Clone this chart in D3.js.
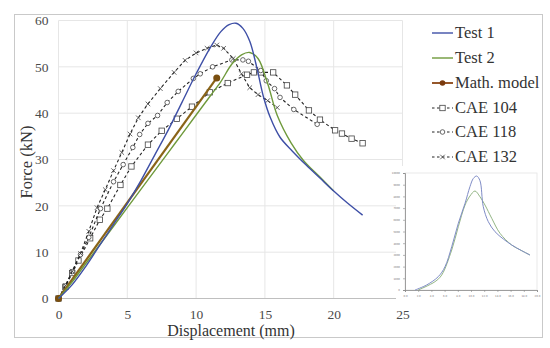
<!DOCTYPE html>
<html><head><meta charset="utf-8">
<script src="https://cdn.jsdelivr.net/npm/d3@7"></script>
<style>body{margin:0;background:#fff}svg{display:block}</style>
</head><body>
<svg id="c" width="550" height="348"></svg>
<script>
// ---- data ----
const xTicks = [0, 5, 10, 15, 20, 25];
const yTicks = [0, 10, 20, 30, 40, 50, 60];
const seriesNames = ["Test 1", "Test 2", "Math. model", "CAE 104", "CAE 118", "CAE 132"];

const test1 = [[0,0],[1,3],[2,7],[3,11.5],[4,16],[5,20.5],[6,25.5],[7,31],[8,36.5],[9,42.5],[10,48.5],[11,54],[11.8,57.6],[12.4,59.1],[12.9,59.4],[13.4,58.3],[13.9,55.5],[14.4,50],[14.9,43.5],[15.4,39],[16.1,34.8],[17,31.8],[18,28.8],[19,26],[20,23.2],[21,20.6],[22.1,18]];
const test2 = [[0,0],[1,3.6],[2,7.6],[3,11.6],[4,15.6],[5,19.6],[6,23.6],[7,27.6],[8,31.6],[9,35.6],[10,39.6],[11,43.6],[11.8,46.8],[12.6,50.6],[13.3,52.6],[13.9,53.1],[14.5,51.8],[15.2,46.4],[15.9,39.5],[16.9,33.6],[17.8,29.8],[19,26.2],[20,23.2]];
const mathModel = [[0,0],[11.5,47.6]];
const cae104 = [[0,0],[0.5,2.5],[1,5.5],[1.45,8.2],[2.3,13],[3,17],[3.55,19.4],[4.5,24.5],[5.3,28.5],[6.5,33.2],[7.5,36.2],[8.6,38.8],[9.7,41.4],[11,44.5],[12.3,46.5],[13.7,48.3],[14.2,48.8],[14.7,48.8],[15.6,48.8],[16.6,46],[17.2,44],[18.2,40.6],[19,38.6],[20.1,36.3],[20.6,35.6],[21.3,34.5],[22.1,33.5]];
const cae118 = [[0,0],[0.5,2.7],[1,5.8],[1.6,9.5],[2.2,13.2],[3.05,19.4],[4,25.2],[4.7,28.9],[5.4,32.6],[5.9,35.4],[6.5,37.8],[7.2,39.5],[7.9,42.3],[8.7,44.7],[9.8,47.5],[10.3,48.5],[11.2,50],[12.6,51.5],[13.4,51.5],[13.8,51.2],[14.7,49.2],[15.1,47],[15.7,45.3],[16.1,43.4],[17.1,40.8],[18.8,37.6]];
const cae132 = [[0,0],[0.5,2.8],[1,5.9],[1.6,9.7],[2.2,14.5],[2.8,19.6],[3.4,23.5],[4,27.6],[4.6,31.5],[5.2,35.5],[5.8,39],[6.5,42],[7.4,45.3],[8.4,48.8],[9.2,51.4],[10,53],[10.8,54],[11.5,54.7],[12,54],[12.7,51.8],[13.3,48.5],[13.9,45.5],[14.5,44],[15.2,42.7],[15.9,41.2]];

// inset (arbitrary units 0..10)
const insetTicks = [0,1,2,3,4,5,6,7,8,9,10];
const insetBlue = [[0.76,0],[1.64,0.43],[2.52,1.14],[3.03,1.99],[3.54,3.7],[4.04,5.7],[4.55,7.41],[4.92,8.83],[5.18,9.54],[5.43,9.74],[5.68,9.34],[5.93,7.12],[6.31,5.84],[6.82,4.98],[7.45,4.36],[8.08,3.85],[8.84,3.36],[9.47,2.99]];
const insetGreen = [[1.0,0],[2.27,0.71],[2.78,1.28],[3.54,3.42],[4.04,5.41],[4.55,7.26],[4.92,8.03],[5.3,8.46],[5.68,7.97],[6.06,7.26],[6.57,6.13],[7.2,4.84],[8.08,3.85],[8.84,3.36],[9.47,2.99]];

// ---- drawing ----
const svg = d3.select("#c");
const serif = "'Liberation Serif','DejaVu Serif',serif";

svg.append("rect").attr("x",14.5).attr("y",14.5).attr("width",528).attr("height",323)
  .attr("fill","#fff").attr("stroke","#c9c9c9").attr("stroke-width",1);

const x = d3.scaleLinear().domain([0,25]).range([58.5,402.5]);
const y = d3.scaleLinear().domain([0,60]).range([298.5,20.5]);

// grid
const g = svg.append("g");
g.selectAll(".vg").data(xTicks).enter().append("line")
  .attr("x1",d=>x(d)).attr("x2",d=>x(d)).attr("y1",y(60)).attr("y2",y(0))
  .attr("stroke","#e6e6e6").attr("stroke-width",1);
g.selectAll(".hg").data(yTicks).enter().append("line")
  .attr("x1",x(0)).attr("x2",x(25)).attr("y1",d=>y(d)).attr("y2",d=>y(d))
  .attr("stroke",d=>d===0?"#bfbfbf":"#e6e6e6").attr("stroke-width",1);

// axes labels via d3 axes
const xAxis = d3.axisBottom(x).tickValues(xTicks).tickSize(0).tickPadding(11);
const xa = svg.append("g").attr("transform",`translate(0,${y(0)})`).call(xAxis);
xa.select(".domain").remove();
xa.selectAll("text").attr("font-family",serif).attr("font-size",13.5).attr("fill","#4a4a4a");

const yAxis = d3.axisLeft(y).tickValues(yTicks).tickSize(0).tickPadding(10);
const ya = svg.append("g").attr("transform",`translate(${x(0)},0)`).call(yAxis);
ya.select(".domain").remove();
ya.selectAll("text").attr("font-family",serif).attr("font-size",13.5).attr("fill","#4a4a4a");

svg.append("text").attr("x",231).attr("y",336).attr("text-anchor","middle")
  .attr("font-family",serif).attr("font-size",16).attr("fill","#333").text("Displacement (mm)");
svg.append("text").attr("transform","translate(32,162) rotate(-90)").attr("text-anchor","middle")
  .attr("font-family",serif).attr("font-size",16.5).attr("fill","#333").text("Force (kN)");

// inset
const ix = d3.scaleLinear().domain([0,10]).range([405,537]);
const iy = d3.scaleLinear().domain([0,10]).range([290,173]);
const ins = svg.append("g");
ins.append("rect").attr("x",396).attr("y",166).attr("width",146).attr("height",134).attr("fill","#fff");
ins.append("rect").attr("x",ix(0)).attr("y",iy(10)).attr("width",ix(10)-ix(0)).attr("height",iy(0)-iy(10))
  .attr("fill","none").attr("stroke","#e4e4e4").attr("stroke-width",0.8);
const iax = ins.append("g").attr("transform",`translate(0,${iy(0)})`)
  .call(d3.axisBottom(ix).tickValues(insetTicks).tickSize(2).tickFormat(d=>(d*2).toFixed(1)));
const iay = ins.append("g").attr("transform",`translate(${ix(0)},0)`)
  .call(d3.axisLeft(iy).tickValues(insetTicks).tickSize(2).tickFormat(d=>d*1000));
[iax,iay].forEach(a=>{
  a.select(".domain").attr("stroke","#888").attr("stroke-width",0.8);
  a.selectAll("line").attr("stroke","#888").attr("stroke-width",0.6);
  a.selectAll("text").attr("font-size",2.6).attr("fill","#777").attr("font-family","'DejaVu Sans',sans-serif");
});
const iline = d3.line().x(d=>ix(d[0])).y(d=>iy(d[1])).curve(d3.curveCatmullRom.alpha(0.5));
ins.append("path").datum(insetGreen).attr("d",iline).attr("fill","none").attr("stroke","#93b585").attr("stroke-width",1);
ins.append("path").datum(insetBlue).attr("d",iline).attr("fill","none").attr("stroke","#7f8cc6").attr("stroke-width",1);

// series
const lineC = d3.line().x(d=>x(d[0])).y(d=>y(d[1])).curve(d3.curveCatmullRom.alpha(0.5));
const lineL = d3.line().x(d=>x(d[0])).y(d=>y(d[1]));
const plot = svg.append("g");

function cae(data, marker){
  plot.append("path").datum(data).attr("d",lineL).attr("fill","none")
    .attr("stroke","#222").attr("stroke-width",1.1).attr("stroke-dasharray","3,2.5");
  const m = plot.append("g");
  data.forEach(d=>drawMarker(m, x(d[0]), y(d[1]), marker));
}
function drawMarker(sel, cx, cy, type){
  if(type==="square"){
    sel.append("rect").attr("x",cx-2.7).attr("y",cy-2.7).attr("width",5.4).attr("height",5.4)
      .attr("fill","#fff").attr("stroke","#444").attr("stroke-width",0.8);
  } else if(type==="circle"){
    sel.append("circle").attr("cx",cx).attr("cy",cy).attr("r",2.3)
      .attr("fill","#fff").attr("stroke","#444").attr("stroke-width",0.8);
  } else {
    sel.append("path").attr("d",`M${cx-2.3},${cy-2.3}L${cx+2.3},${cy+2.3}M${cx-2.3},${cy+2.3}L${cx+2.3},${cy-2.3}`)
      .attr("stroke","#444").attr("stroke-width",0.8);
  }
}
cae(cae104,"square");
cae(cae118,"circle");
cae(cae132,"cross");

plot.append("path").datum(mathModel).attr("d",lineL).attr("fill","none").attr("stroke","#8a6418").attr("stroke-width",2.2);
plot.selectAll(".mm").data(mathModel).enter().append("circle")
  .attr("cx",d=>x(d[0])).attr("cy",d=>y(d[1])).attr("r",3.5).attr("fill","#7a4f10");
plot.append("path").datum(test2).attr("d",lineC).attr("fill","none").attr("stroke","#6f9a3c").attr("stroke-width",1.4);
plot.append("path").datum(test1).attr("d",lineC).attr("fill","none").attr("stroke","#3e4fa6").attr("stroke-width",1.4);

// legend
const legY = [33, 58, 83, 108, 132, 157];
const leg = svg.append("g");
seriesNames.forEach((name,i)=>{
  const yy = legY[i];
  if(i<3){
    const col = ["#3e4fa6","#6f9a3c","#8b4513"][i];
    leg.append("line").attr("x1",432).attr("x2",453).attr("y1",yy).attr("y2",yy)
      .attr("stroke",col).attr("stroke-width",i===2?1.8:1.4);
    if(i===2) leg.append("circle").attr("cx",442.5).attr("cy",yy).attr("r",2.8).attr("fill","#7a3a0e");
  } else {
    leg.append("line").attr("x1",432).attr("x2",453).attr("y1",yy).attr("y2",yy)
      .attr("stroke","#222").attr("stroke-width",1).attr("stroke-dasharray","2.5,2.5");
    drawMarker(leg, 442.5, yy, ["square","circle","cross"][i-3]);
  }
  leg.append("text").attr("x",455).attr("y",yy+5).attr("font-family",serif).attr("font-size",16.5)
    .attr("fill","#333").text(name);
});
</script>
</body></html>
